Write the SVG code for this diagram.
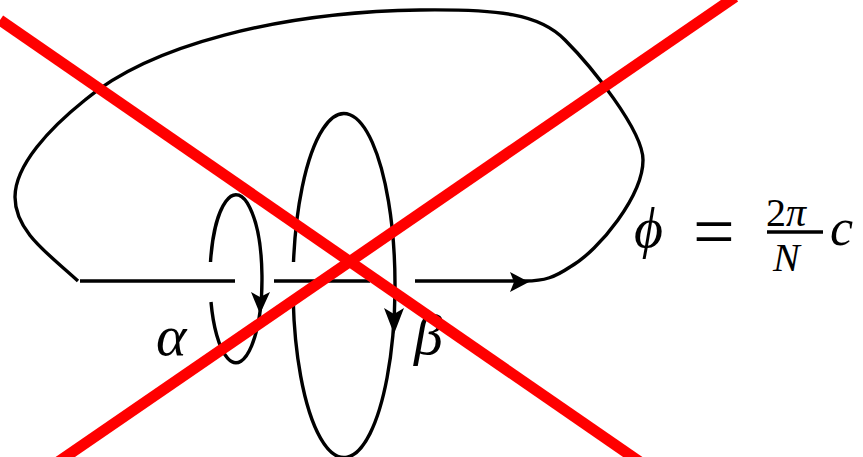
<svg xmlns="http://www.w3.org/2000/svg" width="863" height="457" viewBox="0 0 863 457">
<style>
.k{fill:none;stroke:#000;stroke-width:3.4;stroke-linecap:butt}
.ah{fill:#000;stroke:none}
.m{font-family:"Liberation Serif","DejaVu Serif",serif;font-style:italic;fill:#000}
.r{font-family:"Liberation Serif","DejaVu Serif",serif;fill:#000}
.x{stroke:#ff0000;stroke-width:11;fill:none}
</style>
<rect width="863" height="457" fill="#fff"/>
<g id="connectors">
<path class="k" d="M78,281 C50,255 15,232 15,197 C15,165 50,128 85,100 C150,45 280,12 420,10 C500,9 540,14 565,40 C590,65 643,130 643,160 C643,195 600,250 570,267 C555,277 545,281 525,281"/>
<path class="k" d="M80,281 H235 M274,281 H370 M415,281 H525"/>
<polygon class="ah" points="529,282 510,272 514,282 510,292"/>
</g>
<g id="alpha-loop">
<path class="k" d="M210.5,262 A26,84 0 1 1 211,302"/>
<polygon class="ah" points="260,314 251,292 260,297 270,292"/>
<text class="m" x="156" y="355" font-size="58">α</text>
</g>
<g id="beta-loop">
<path class="k" d="M293.5,262 A51,172 0 1 1 293.2,300"/>
<polygon class="ah" points="394,334 384,308 394,314 404,308"/>
<text class="m" x="414" y="354" font-size="58">β</text>
</g>
<g id="label">
<text class="m" x="634" y="247" font-size="56">ϕ</text>
<text class="r" x="693" y="256" font-size="74">=</text>
<text class="r" x="766" y="226" font-size="40">2<tspan class="m">π</tspan></text>
<line x1="767" y1="232" x2="823" y2="232" stroke="#000" stroke-width="3.5"/>
<text class="m" x="773" y="271" font-size="40">N</text>
<text class="m" x="830" y="245" font-size="52">c</text>
</g>
<g id="cross">
<line class="x" x1="0" y1="20" x2="640" y2="462"/>
<line class="x" x1="735" y1="-3" x2="58" y2="462"/>
</g>
</svg>
